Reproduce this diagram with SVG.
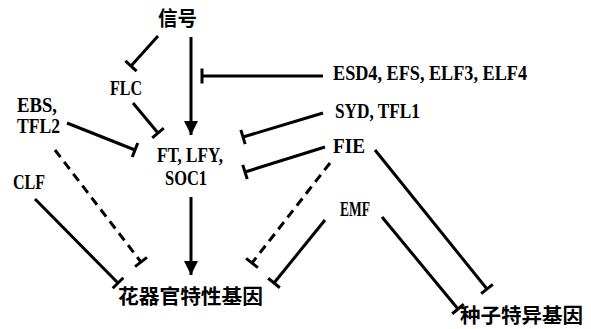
<svg xmlns="http://www.w3.org/2000/svg" width="591" height="329" viewBox="0 0 591 329">
<style>
.lab{font-family:"Liberation Serif","Noto Sans CJK SC",serif;font-weight:bold;font-size:20px;fill:#000}
.cjk{font-family:"Noto Sans CJK SC",sans-serif;font-weight:bold;font-size:20px;fill:#000}
.l{stroke:#000;stroke-width:3;fill:none}
.inh{marker-end:url(#tee)}
.act{marker-end:url(#arr)}
.dash{stroke-dasharray:9 6}
</style>
<defs>
<marker id="tee" markerUnits="userSpaceOnUse" orient="auto" viewBox="-3 -9 6 18" markerWidth="6" markerHeight="18" refX="0" refY="0">
<path d="M0,-7.5 L0,7.5" stroke="#000" stroke-width="3"/>
</marker>
<marker id="arr" markerUnits="userSpaceOnUse" orient="auto" viewBox="-14 -8 15 16" markerWidth="15" markerHeight="16" refX="0" refY="0">
<path d="M-14,-7 L0,0 L-14,7 Z" fill="#000"/>
</marker>
</defs>
<g id="connectors">
<line class="l inh" x1="158" y1="36" x2="131" y2="66"/>
<line class="l inh" x1="133" y1="103" x2="158" y2="133"/>
<line class="l act" x1="191" y1="37" x2="191" y2="135"/>
<line class="l inh" x1="323" y1="76" x2="202" y2="76"/>
<line class="l inh" x1="323" y1="113" x2="243" y2="137"/>
<line class="l inh" x1="325" y1="147" x2="245" y2="172"/>
<line class="l inh" x1="67" y1="123" x2="135" y2="150"/>
<line class="l inh dash" x1="55" y1="150" x2="141" y2="262"/>
<line class="l inh" x1="35" y1="199" x2="118" y2="283"/>
<line class="l act" x1="191" y1="197" x2="191" y2="275"/>
<line class="l inh dash" x1="330" y1="163" x2="252" y2="263"/>
<line class="l inh" x1="325" y1="220" x2="274" y2="283"/>
<line class="l inh" x1="382" y1="217" x2="458" y2="309"/>
<line class="l inh" x1="375" y1="150" x2="487" y2="289"/>
</g>
<g id="signal"><text class="cjk" x="158" y="26" textLength="39" lengthAdjust="spacingAndGlyphs">信号</text></g>
<g id="flc"><text class="lab" x="110" y="95" textLength="32" lengthAdjust="spacingAndGlyphs">FLC</text></g>
<g id="esd4"><text class="lab" x="333" y="80" textLength="194" lengthAdjust="spacingAndGlyphs">ESD4, EFS, ELF3, ELF4</text></g>
<g id="syd"><text class="lab" x="335" y="118" textLength="85" lengthAdjust="spacingAndGlyphs">SYD, TFL1</text></g>
<g id="fie"><text class="lab" x="333" y="153" textLength="32" lengthAdjust="spacingAndGlyphs">FIE</text></g>
<g id="ebs">
<text class="lab" x="17" y="112" textLength="40" lengthAdjust="spacingAndGlyphs">EBS,</text>
<text class="lab" x="17" y="133" textLength="43" lengthAdjust="spacingAndGlyphs">TFL2</text>
</g>
<g id="ft">
<text class="lab" x="157" y="162" textLength="66" lengthAdjust="spacingAndGlyphs">FT, LFY,</text>
<text class="lab" x="165" y="185" textLength="42" lengthAdjust="spacingAndGlyphs">SOC1</text>
</g>
<g id="clf"><text class="lab" x="13" y="189" textLength="32" lengthAdjust="spacingAndGlyphs">CLF</text></g>
<g id="emf"><text class="lab" x="340" y="216" textLength="30" lengthAdjust="spacingAndGlyphs">EMF</text></g>
<g id="floral"><text class="cjk" x="118" y="304" textLength="145" lengthAdjust="spacingAndGlyphs">花器官特性基因</text></g>
<g id="seed"><text class="cjk" x="460" y="323" textLength="123" lengthAdjust="spacingAndGlyphs">种子特异基因</text></g>
</svg>
